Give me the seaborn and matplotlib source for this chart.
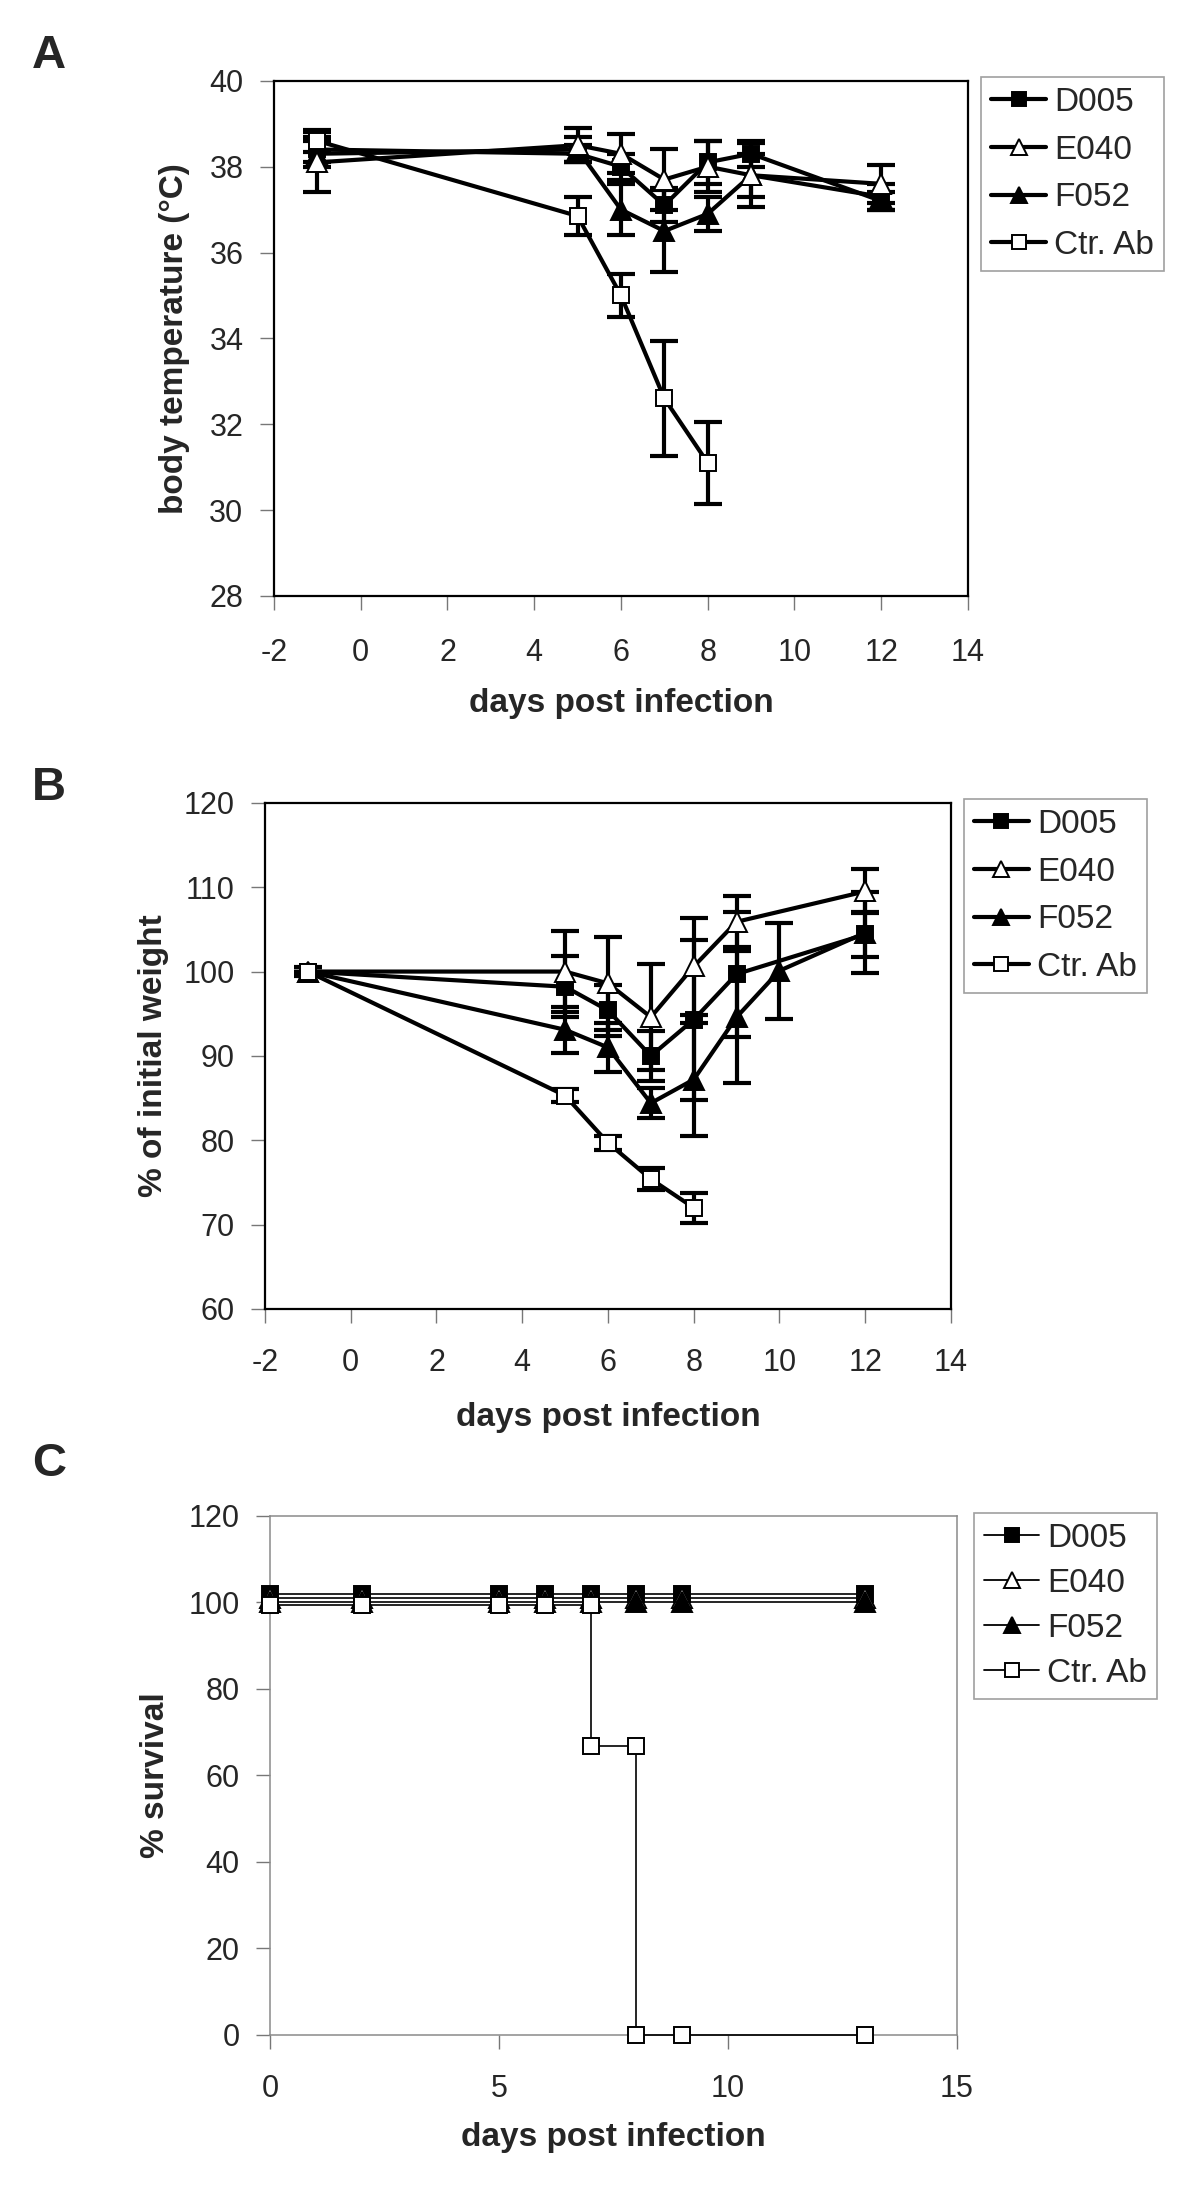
import matplotlib
matplotlib.use("Agg")
import matplotlib.pyplot as plt
import seaborn as sns

# ---- data ----
groups = ["D005", "E040", "F052", "Ctr. Ab"]

# A: body temperature
days_a = [-1, 5, 6, 7, 8, 9, 12]
days_a_ctr = [-1, 5, 6, 7, 8]
temp_d005 = [38.4, 38.3, 38.0, 37.1, 38.1, 38.3, 37.2]
temp_d005_sd = [0.3, 0.2, 0.3, 0.4, 0.5, 0.3, 0.2]
temp_e040 = [38.1, 38.5, 38.3, 37.7, 38.0, 37.8, 37.6]
temp_e040_sd = [0.7, 0.4, 0.45, 0.7, 0.6, 0.5, 0.45]
temp_f052 = [38.3, 38.4, 37.0, 36.5, 36.9, 37.8, 37.3]
temp_f052_sd = [0.3, 0.3, 0.6, 0.95, 0.4, 0.75, 0.3]
temp_ctr = [38.6, 36.85, 35.0, 32.6, 31.1]
temp_ctr_sd = [0.25, 0.45, 0.5, 1.35, 0.95]

# B: % of initial weight
days_b = [-1, 5, 6, 7, 8, 9, 12]
days_b_f052 = [-1, 5, 6, 7, 8, 9, 10, 12]
days_b_ctr = [-1, 5, 6, 7, 8]
wt_d005 = [100, 98.2, 95.4, 90.0, 94.3, 99.7, 104.4]
wt_d005_sd = [0, 3.6, 3.0, 3.0, 9.5, 7.4, 2.7]
wt_e040 = [100, 100.0, 98.6, 94.6, 100.6, 105.9, 109.5]
wt_e040_sd = [0, 4.8, 5.5, 6.3, 5.8, 3.0, 2.6]
wt_f052 = [100, 93.1, 91.0, 84.4, 87.2, 94.6, 100.1, 104.6]
wt_f052_sd = [0, 2.7, 2.9, 1.8, 6.7, 7.8, 5.7, 4.8]
wt_ctr = [100, 85.3, 79.7, 75.4, 72.0]
wt_ctr_sd = [0.5, 0.8, 0.8, 1.3, 1.8]

# C: survival
days_c = [0, 2, 5, 6, 7, 8, 9, 13]
surv_d005 = [102, 102, 102, 102, 102, 102, 102, 102]
surv_e040 = [101, 101, 101, 101, 101, 101, 101, 101]
surv_f052 = [100, 100, 100, 100, 100, 100, 100, 100]
days_c_ctr = [0, 2, 5, 6, 7, 7, 8, 8, 9, 13]
surv_ctr = [99.5, 99.5, 99.5, 99.5, 99.5, 66.7, 66.7, 0, 0, 0]

# marker style per group: (marker, face)
styles = {"D005": ("s", "black"), "E040": ("^", "white"),
          "F052": ("^", "black"), "Ctr. Ab": ("s", "white")}

sns.set_style("ticks")
plt.rcParams["font.family"] = ["Liberation Sans", "DejaVu Sans"]
plt.rcParams["axes.unicode_minus"] = False

fig = plt.figure(figsize=(12, 21.9), dpi=100)


def draw_panel(ax, series, lw, ms_sq, ms_tri, with_err):
    handles = []
    for name, x, y, sd in series:
        mk, face = styles[name]
        ms = ms_sq if mk == "s" else ms_tri
        sns.lineplot(x=x, y=y, ax=ax, color="black", lw=lw, marker=mk, markersize=ms,
                     markerfacecolor=face, markeredgecolor="black", markeredgewidth=1.4,
                     estimator=None, sort=False, errorbar=None, label=name, zorder=6,
                     clip_on=False)
        handles.append(ax.lines[-1])
        if with_err:
            ax.errorbar(x, y, yerr=sd, fmt="none", ecolor="black", elinewidth=lw,
                        capsize=10, capthick=lw, zorder=4, label="_nolegend_")
    return handles


def style_axes(ax, edge, spine_lw):
    for s in ax.spines.values():
        s.set_visible(True)
        s.set_color(edge)
        s.set_linewidth(spine_lw)
    ax.tick_params(axis="both", direction="out", length=10, width=1, color="#777777",
                   labelsize=22)
    ax.tick_params(axis="y", pad=12)


def add_legend(ax, handles, anchor, lw, spacing):
    leg = ax.legend(handles=handles, labels=groups, loc="upper left",
                    bbox_to_anchor=anchor, bbox_transform=fig.transFigure,
                    fontsize=24, frameon=True, fancybox=False, borderaxespad=0,
                    handlelength=1.65, handletextpad=0.25, labelspacing=spacing,
                    borderpad=0.3, markerscale=0.8)
    leg.get_frame().set_edgecolor("#888888")
    leg.get_frame().set_linewidth(1.2)
    for h in leg.get_lines():
        h.set_linewidth(lw)


# ---- A ----
ax_a = fig.add_axes([0.2283, 0.7279, 0.5783, 0.2352])
h = draw_panel(ax_a, [("D005", days_a, temp_d005, temp_d005_sd),
                      ("F052", days_a, temp_f052, temp_f052_sd),
                      ("E040", days_a, temp_e040, temp_e040_sd),
                      ("Ctr. Ab", days_a_ctr, temp_ctr, temp_ctr_sd)],
               lw=3, ms_sq=12, ms_tri=15, with_err=True)
ax_a.set_xlim(-2, 14)
ax_a.set_ylim(28, 40)
ax_a.set_xticks(range(-2, 15, 2))
ax_a.set_yticks(range(28, 41, 2))
style_axes(ax_a, "black", 1.6)
ax_a.tick_params(axis="x", pad=20)
ax_a.set_xlabel("days post infection", fontsize=24, fontweight="bold")
ax_a.set_ylabel("body temperature (°C)", fontsize=24, fontweight="bold")
ax_a.xaxis.label.set_va("center")
ax_a.yaxis.label.set_va("center")
ax_a.xaxis.set_label_coords(0.5, -0.208)
ax_a.yaxis.set_label_coords(-0.143, 0.5)
add_legend(ax_a, [h[0], h[2], h[1], h[3]], (0.8175, 0.9648), 3, 0.5)

# ---- B ----
ax_b = fig.add_axes([0.2208, 0.4023, 0.5717, 0.2311])
h = draw_panel(ax_b, [("D005", days_b, wt_d005, wt_d005_sd),
                      ("E040", days_b, wt_e040, wt_e040_sd),
                      ("F052", days_b_f052, wt_f052, wt_f052_sd),
                      ("Ctr. Ab", days_b_ctr, wt_ctr, wt_ctr_sd)],
               lw=3, ms_sq=12, ms_tri=15, with_err=True)
ax_b.set_xlim(-2, 14)
ax_b.set_ylim(60, 120)
ax_b.set_xticks(range(-2, 15, 2))
ax_b.set_yticks(range(60, 121, 10))
style_axes(ax_b, "black", 1.6)
ax_b.tick_params(axis="x", pad=18)
ax_b.set_xlabel("days post infection", fontsize=24, fontweight="bold")
ax_b.set_ylabel("% of initial weight", fontsize=24, fontweight="bold")
ax_b.xaxis.label.set_va("center")
ax_b.yaxis.label.set_va("center")
ax_b.xaxis.set_label_coords(0.5, -0.215)
ax_b.yaxis.set_label_coords(-0.162, 0.5)
add_legend(ax_b, h, (0.8033, 0.6352), 3, 0.5)

# ---- C ----
ax_c = fig.add_axes([0.225, 0.0708, 0.5725, 0.237])
h = draw_panel(ax_c, [("D005", days_c, surv_d005, None),
                      ("E040", days_c, surv_e040, None),
                      ("F052", days_c, surv_f052, None),
                      ("Ctr. Ab", days_c_ctr, surv_ctr, None)],
               lw=1.2, ms_sq=12, ms_tri=14, with_err=False)
ax_c.set_xlim(0, 15)
ax_c.set_ylim(0, 120)
ax_c.set_xticks(range(0, 16, 5))
ax_c.set_yticks(range(0, 121, 20))
style_axes(ax_c, "#8a8a8a", 1.1)
ax_c.tick_params(axis="x", pad=18)
ax_c.set_xlabel("days post infection", fontsize=24, fontweight="bold")
ax_c.set_ylabel("% survival", fontsize=24, fontweight="bold")
ax_c.xaxis.label.set_va("center")
ax_c.yaxis.label.set_va("center")
ax_c.xaxis.set_label_coords(0.5, -0.197)
ax_c.yaxis.set_label_coords(-0.166, 0.5)
add_legend(ax_c, h, (0.8117, 0.3091), 1.3, 0.42)

# panel letters
for letter, y in (("A", 34), ("B", 766), ("C", 1442)):
    fig.text(32 / 1200, 1 - y / 2190, letter, fontsize=34, fontweight="bold",
             ha="left", va="top")

fig.savefig("out.png", dpi=100, facecolor="white")
